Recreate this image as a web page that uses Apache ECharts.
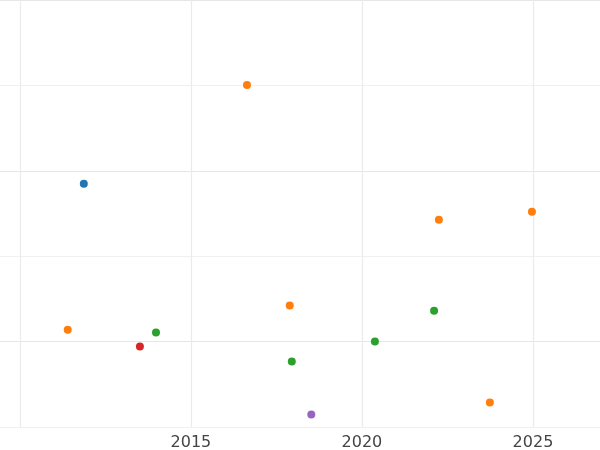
<!DOCTYPE html><html><head><meta charset="utf-8"><script src="https://cdn.jsdelivr.net/npm/echarts@6/dist/echarts.min.js"></script></head><body style="margin:0"><div id="c" style="width:600px;height:450px"></div><script>
const blue=[[2011.87,0.924]];
const orange=[[2016.64,1.503],[2022.25,0.713],[2024.97,0.760],[2017.89,0.211],[2011.40,0.070],[2023.74,-0.357]];
const green=[[2013.98,0.053],[2022.11,0.181],[2020.38,0],[2017.95,-0.117]];
const red=[[2013.51,-0.029]];
const purple=[[2018.52,-0.427]];
const xGrid=[2010,2015,2020,2025];
const xLabels=[2015,2020,2025];
const mk=(d,c)=>({type:'scatter',data:d,symbolSize:8,itemStyle:{color:c,opacity:1}});
const ch=echarts.init(document.getElementById('c'));
const series=[mk(blue,'#1f77b4'),mk(orange,'#ff7f0e'),mk(green,'#2ca02c'),mk(red,'#d62728'),mk(purple,'#9467bd')];
series[0].markLine={silent:true,symbol:'none',label:{show:false},z:0,lineStyle:{color:'#ebebeb',width:1.2,type:'solid'},data:xGrid.map(v=>({xAxis:v}))};
ch.setOption({animation:false,grid:{left:0,right:0,top:0,bottom:23,containLabel:false,outerBoundsMode:'none'},
xAxis:{type:'value',min:2009.42,max:2026.96,axisLine:{show:false},axisTick:{show:false},
 axisLabel:{fontSize:16,color:'#444',fontFamily:'DejaVu Sans',customValues:xLabels,formatter:v=>String(Math.round(v))},
 splitLine:{show:false}},
yAxis:{type:'value',min:-0.5,max:2,interval:0.5,axisLine:{show:false},axisTick:{show:false},axisLabel:{show:false},
 splitLine:{lineStyle:{color:['#f0f0f0','#e6e6e6'],width:1.2}}},
series});
</script></body></html>
